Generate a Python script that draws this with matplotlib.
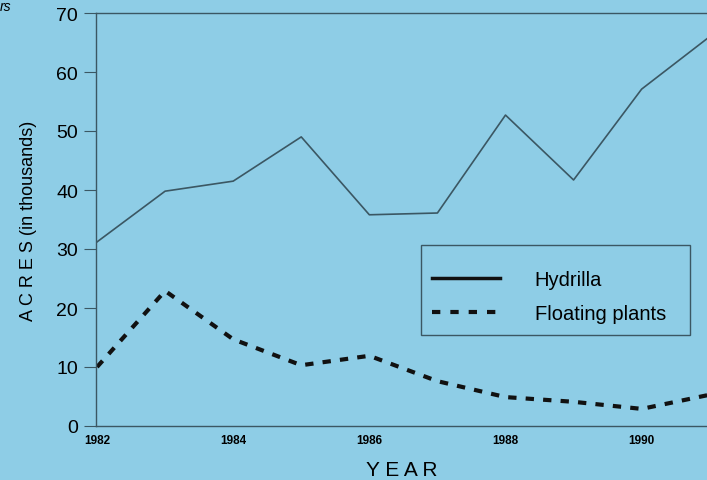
import matplotlib
matplotlib.use("Agg")
import matplotlib.pyplot as plt
from matplotlib.lines import Line2D
from matplotlib.patches import Rectangle

years = [1982, 1983, 1984, 1985, 1986, 1987, 1988, 1989, 1990, 1991]
hydrilla = [31.2, 39.8, 41.5, 49.0, 35.8, 36.1, 52.7, 41.7, 57.1, 66.0]
floating = [10.0, 22.9, 14.7, 10.3, 11.9, 7.6, 4.9, 4.1, 2.9, 5.3]
xtick_years = [1982, 1984, 1986, 1988, 1990]
yticks = [0, 10, 20, 30, 40, 50, 60, 70]
series_names = ["Hydrilla", "Floating plants"]

bg = "#8ecde6"
axc = "#3b5763"
plt.rcParams['font.family'] = ['Liberation Sans', 'DejaVu Sans']

W, H = 707, 481
fig = plt.figure(figsize=(7.07, 4.81), dpi=100, facecolor=bg)
ax = fig.add_axes([96/W, 1-427/H, 1-96/W, (427-14)/H])
ax.set_facecolor(bg)

ax.plot(years, hydrilla, color=axc, lw=1.2)
ax.plot(years, floating, color="#111111", lw=3.0, dashes=(2.0, 2.2))

ax.set_xlim(1981.985, 1990.96)
ax.set_ylim(0, 70)
ax.set_yticks(yticks)
ax.set_yticklabels([str(v) for v in yticks], fontsize=14)
ax.set_xticks(xtick_years)
ax.set_xticklabels([str(v) for v in xtick_years], fontsize=8.5, fontweight='bold')
ax.tick_params(axis='x', length=0, pad=6)
ax.tick_params(axis='y', length=9, width=0.8, color=axc, pad=4, direction='out')

for s in ['left', 'bottom', 'top']:
    ax.spines[s].set_color(axc)
    ax.spines[s].set_linewidth(1.0)
ax.spines['right'].set_visible(False)

ax.set_ylabel("A C R E S (in thousands)", fontsize=13, labelpad=14)
ax.set_xlabel("Y E A R", fontsize=15, labelpad=10)

# legend frame
fig.patches.append(Rectangle((421/W, 1-336/H), (690-421)/W, (336-246)/H,
                             transform=fig.transFigure, facecolor='none',
                             edgecolor=axc, lw=1.0, zorder=5))
handles = [Line2D([], [], color="#111111", lw=2.5),
           Line2D([], [], color="#111111", lw=3.0, dashes=(2.0, 2.4))]
leg = fig.legend(handles, series_names, loc='upper left',
                 bbox_to_anchor=(432/W, 1-271/H), frameon=False,
                 fontsize=14.5, handlelength=3.4, handletextpad=1.7,
                 borderpad=0, labelspacing=0.75, borderaxespad=0)

fig.text(0.0, 1.0, "rs", fontsize=10, style='italic', ha='left', va='top')

fig.savefig("out.png", dpi=100, facecolor=bg)
